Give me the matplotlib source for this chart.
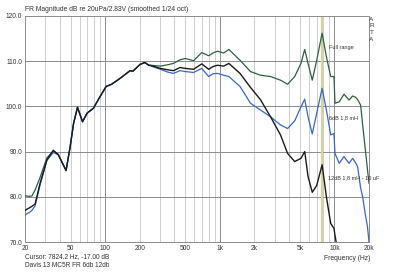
import matplotlib
matplotlib.use("Agg")
import matplotlib.pyplot as plt
from matplotlib.ticker import FixedLocator, NullLocator

# Frequency points (Hz) shared by all three curves
freqs = [20, 22, 23, 24.5, 27, 31, 35.3, 39, 45.6, 49.5, 53, 57.4, 63.5, 69.6,
         79, 90, 102, 114, 135, 165, 175, 202, 222, 240, 246, 303, 350, 394,
         450, 500, 590, 696, 800, 870, 955, 1080, 1200, 1500, 1850, 2260, 2770,
         3380, 3900, 4500, 5100, 5500, 5880, 6400, 7000, 7800, 8500, 9270, 9900,
         10100, 11000, 12100, 13400, 14400, 15300, 15900, 16900, 17600, 18600,
         19400, 20000]

full_range = [80.2, 80.1, 80.2, 81.5, 84.2, 88.6, 90.1, 89.4, 85.9, 91.0, 96.2,
              99.8, 96.6, 98.5, 99.6, 102.1, 104.4, 104.9, 106.2, 107.9, 107.8,
              109.3, 109.7, 109.1, 109.1, 108.9, 109.2, 109.5, 110.3, 110.6, 110.1,
              111.9, 111.2, 111.8, 112.2, 111.8, 112.6, 110.2, 107.7, 106.9, 106.6,
              105.8, 104.9, 106.6, 109.5, 112.6, 109.5, 105.8, 110.2, 116.2, 111.0,
              106.6, 106.6, 100.7, 101.0, 102.7, 101.4, 102.3, 102.0, 101.5, 100.3,
              96.0, 90.3, 86.0, 83.0]

db6_18mh = [76.0, 76.6, 77.0, 78.0, 82.5, 88.0, 89.8, 89.3, 85.8, 91.0, 96.2,
            99.8, 96.6, 98.5, 99.6, 102.1, 104.4, 104.9, 106.2, 107.9, 107.8,
            109.3, 109.7, 109.1, 109.0, 108.2, 107.6, 107.3, 107.9, 107.7, 107.5,
            108.4, 106.6, 107.2, 107.3, 106.9, 106.6, 104.4, 100.7, 99.2, 97.7,
            95.9, 95.1, 96.8, 99.9, 101.6, 97.7, 93.9, 98.5, 104.0, 99.2,
            93.7, 94.0, 89.6, 87.4, 88.9, 87.4, 88.5, 87.5, 86.7, 82.0,
            80.0, 76.0, 73.4, 70.0]

db12_18mh_10uf = [77.0, 77.6, 77.9, 78.4, 82.9, 88.1, 90.3, 89.3, 85.8, 91.0, 96.2,
                  99.8, 96.6, 98.5, 99.6, 102.1, 104.4, 104.9, 106.2, 107.9, 107.8,
                  109.3, 109.7, 109.1, 109.1, 108.4, 108.1, 107.9, 108.6, 108.4, 108.2,
                  109.4, 108.2, 108.8, 109.1, 108.9, 109.5, 107.3, 104.2, 101.5, 97.7,
                  93.7, 89.6, 87.8, 88.5, 90.0, 84.5, 81.0, 82.5, 87.1, 80.0,
                  74.1, 73.0, 71.5, 66.0, 63.0, 61.0, 60.0, 59.0, 58.0, 57.0,
                  56.0, 55.0, 54.0, 53.0]

cursor_freq = 7824.2
y_ticks = [70, 80, 90, 100, 110, 120]
x_ticks = [20, 50, 100, 200, 500, 1000, 2000, 5000, 10000, 20000]
x_tick_labels = ["20", "50", "100", "200", "500", "1k", "2k", "5k", "10k", "20k"]

plt.rcParams['font.family'] = ['Liberation Sans', 'DejaVu Sans']

fig = plt.figure(figsize=(4, 2.8), dpi=100)
ax = fig.add_axes([0.0625, 0.1357, 0.86, 0.8073])

# vertical grid: every 1-2-...-9 step per decade
for dec in [10, 100, 1000, 10000]:
    for k in range(1, 10):
        f = dec * k
        if f <= 20 or f >= 20000:
            continue
        col = "#8c8c8c" if k == 1 else "#cfcfcf"
        ax.axvline(f, color=col, lw=0.7, zorder=1)
for yv in y_ticks[1:-1]:
    ax.axhline(yv, color="#8c8c8c", lw=0.7, zorder=1)

ax.axvline(cursor_freq, color="#d6d49c", lw=1.6, zorder=2)

ax.plot(freqs, full_range, color="#2f5f40", lw=0.9, zorder=3)
ax.plot(freqs, db6_18mh, color="#3a66c4", lw=0.9, zorder=4)
ax.plot(freqs, db12_18mh_10uf, color="#1a1a1a", lw=1.0, zorder=5)

ax.set_xscale("log")
ax.set_xlim(20, 20000)
ax.set_ylim(70, 120)
ax.xaxis.set_major_locator(FixedLocator(x_ticks))
ax.xaxis.set_minor_locator(NullLocator())
ax.set_xticklabels(x_tick_labels)
ax.set_yticks(y_ticks)
ax.set_yticklabels([f"{v:.1f}" for v in y_ticks])
ax.tick_params(length=0, labelsize=4.8, colors="#333333", pad=2)
for s in ax.spines.values():
    s.set_color("#8c8c8c")
    s.set_linewidth(0.7)

fig.text(0.0625, 0.955, "FR Magnitude dB re 20uPa/2.83V (smoothed 1/24 oct)",
         fontsize=4.9, color="#333333", va="bottom", ha="left")
fig.text(0.0625, 0.085, "Cursor: 7824.2 Hz, -17.00 dB", fontsize=4.7,
         color="#333333", va="center")
fig.text(0.0625, 0.053, "Davis 13 MC5R FR 6db 12db", fontsize=4.7,
         color="#333333", va="center")
fig.text(0.925, 0.075, "Frequency (Hz)", fontsize=4.9, color="#333333",
         va="center", ha="right")
# vertical ARTA label, one letter per line
for i, ch in enumerate("ARTA"):
    fig.text(0.929, 0.932 - i * 0.024, ch, fontsize=4.6, color="#333333",
             va="center", ha="center")

fig.text(0.822, 0.830, "Full range", fontsize=4.0, color="#333333", va="center")
fig.text(0.822, 0.580, "6dB 1,8 mH", fontsize=4.0, color="#333333", va="center")
fig.text(0.820, 0.364, "12dB 1,8 mH - 10 uF", fontsize=4.0, color="#333333",
         va="center")

plt.savefig("out.png", dpi=100)
